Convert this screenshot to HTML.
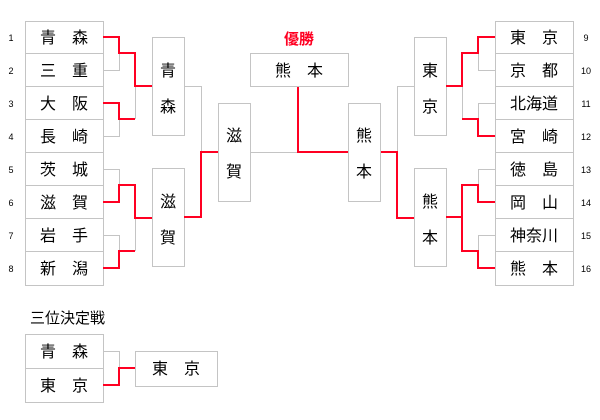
<!DOCTYPE html>
<html><head><meta charset="utf-8"><style>
html,body{margin:0;padding:0;background:#fff;}
svg{display:block;}
text{font-family:"Liberation Sans","Noto Sans CJK JP",sans-serif;}
</style></head><body>
<svg width="600" height="420" viewBox="0 0 600 420" xmlns="http://www.w3.org/2000/svg">
<g fill="#fff" stroke="#c4c4c4" stroke-width="1">
<rect x="25.5" y="21.5" width="78" height="264"/>
<rect x="495.5" y="21.5" width="78" height="264"/>
<rect x="152.5" y="37.5" width="32" height="98"/>
<rect x="152.5" y="168.5" width="32" height="98"/>
<rect x="218.5" y="103.5" width="32" height="98"/>
<rect x="348.5" y="103.5" width="32" height="98"/>
<rect x="414.5" y="37.5" width="32" height="98"/>
<rect x="414.5" y="168.5" width="32" height="98"/>
<rect x="250.5" y="53.5" width="98" height="33"/>
<rect x="25.5" y="334.5" width="78" height="68"/>
<rect x="135.5" y="351.5" width="82" height="35"/>
</g>
<g stroke="#c4c4c4" stroke-width="1">
<line x1="25" y1="53.5" x2="103" y2="53.5"/><line x1="25" y1="86.5" x2="103" y2="86.5"/>
<line x1="25" y1="119.5" x2="103" y2="119.5"/><line x1="25" y1="152.5" x2="103" y2="152.5"/>
<line x1="25" y1="185.5" x2="103" y2="185.5"/><line x1="25" y1="218.5" x2="103" y2="218.5"/>
<line x1="25" y1="251.5" x2="103" y2="251.5"/>
<line x1="495" y1="53.5" x2="573" y2="53.5"/><line x1="495" y1="86.5" x2="573" y2="86.5"/>
<line x1="495" y1="119.5" x2="573" y2="119.5"/><line x1="495" y1="152.5" x2="573" y2="152.5"/>
<line x1="495" y1="185.5" x2="573" y2="185.5"/><line x1="495" y1="218.5" x2="573" y2="218.5"/>
<line x1="495" y1="251.5" x2="573" y2="251.5"/>
<line x1="25" y1="368.5" x2="103" y2="368.5"/>
</g>
<g fill="none" stroke="#c4c4c4" stroke-width="1">
<polyline points="103,70.5 119.5,70.5 119.5,53"/>
<polyline points="103,136.5 119.5,136.5 119.5,119"/>
<polyline points="135.5,86 135.5,119"/>
<polyline points="103,169.5 119.5,169.5 119.5,185"/>
<polyline points="103,235.5 119.5,235.5 119.5,251"/>
<polyline points="135.5,218 135.5,251"/>
<polyline points="184,86.5 201.5,86.5 201.5,152"/>
<polyline points="250,152.5 298,152.5"/>
<polyline points="397.5,152 397.5,86.5 414,86.5"/>
<polyline points="478.5,53 478.5,70.5 495,70.5"/>
<polyline points="462.5,86 462.5,119"/>
<polyline points="478.5,119 478.5,103.5 495,103.5"/>
<polyline points="478.5,185 478.5,169.5 495,169.5"/>
<polyline points="478.5,251 478.5,235.5 495,235.5"/>
<polyline points="103,351.5 119.5,351.5 119.5,368"/>
</g>
<g fill="none" stroke="#ff0022" stroke-width="2">
<polyline points="103,37 119,37 119,53 135,53 135,86 152,86"/>
<polyline points="103,103 119,103 119,119 135,119"/>
<polyline points="103,202 119,202 119,185 135,185 135,218 152,218"/>
<polyline points="103,268 119,268 119,251 135,251"/>
<polyline points="184,217 201,217 201,152 218,152"/>
<polyline points="298,87 298,152 348,152"/>
<polyline points="381,152 397,152 397,218 414,218"/>
<polyline points="446,86 462,86 462,53 478,53 478,37 495,37"/>
<polyline points="462,119 478,119 478,136 495,136"/>
<polyline points="446,217 462,217 462,185 478,185 478,202 495,202"/>
<polyline points="462,217 462,251 478,251 478,268 495,268"/>
<polyline points="103,385 119,385 119,368 135,368"/>
</g>
<g font-size="16" fill="#000" text-anchor="middle">
<text x="64" y="43">青　森</text><text x="64" y="76">三　重</text>
<text x="64" y="109">大　阪</text><text x="64" y="142">長　崎</text>
<text x="64" y="175">茨　城</text><text x="64" y="208">滋　賀</text>
<text x="64" y="241">岩　手</text><text x="64" y="274">新　潟</text>
<text x="534" y="43">東　京</text><text x="534" y="76">京　都</text>
<text x="534" y="109">北海道</text><text x="534" y="142">宮　崎</text>
<text x="534" y="175">徳　島</text><text x="534" y="208">岡　山</text>
<text x="534" y="241">神奈川</text><text x="534" y="274">熊　本</text>
<text x="168" y="76">青</text><text x="168" y="112">森</text>
<text x="168" y="207">滋</text><text x="168" y="243">賀</text>
<text x="234" y="141">滋</text><text x="234" y="177">賀</text>
<text x="364" y="141">熊</text><text x="364" y="177">本</text>
<text x="430" y="76">東</text><text x="430" y="112">京</text>
<text x="430" y="207">熊</text><text x="430" y="243">本</text>
<text x="299" y="76">熊　本</text>
<text x="64" y="357">青　森</text><text x="64" y="391">東　京</text>
<text x="176" y="374">東　京</text>
</g>
<text x="299" y="44" font-size="15" font-weight="bold" fill="#ff0022" text-anchor="middle">優勝</text>
<text x="30" y="323" font-size="15" fill="#000">三位決定戦</text>
<g font-size="9" fill="#000" text-anchor="middle">
<text x="11" y="41">1</text><text x="11" y="74">2</text><text x="11" y="107">3</text><text x="11" y="140">4</text>
<text x="11" y="173">5</text><text x="11" y="206">6</text><text x="11" y="239">7</text><text x="11" y="272">8</text>
<text x="586" y="41">9</text><text x="586" y="74">10</text><text x="586" y="107">11</text><text x="586" y="140">12</text>
<text x="586" y="173">13</text><text x="586" y="206">14</text><text x="586" y="239">15</text><text x="586" y="272">16</text>
</g>
</svg>
</body></html>
